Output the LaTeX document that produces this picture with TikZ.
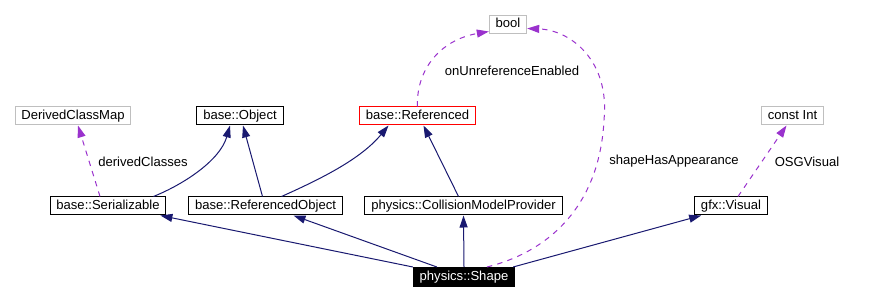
\documentclass[tikz,border=0pt]{standalone}
\usepackage{fontspec}
\setmainfont{Liberation Sans}
\usetikzlibrary{arrows.meta,calc}
\definecolor{inhblue}{RGB}{25,25,112}
\definecolor{usepurple}{RGB}{154,50,205}
\definecolor{extgrey}{RGB}{191,191,191}
\tikzset{
  cls/.style={draw=black,fill=white,line width=0.75pt,inner xsep=4.75pt,inner ysep=0pt,
              minimum height=13.5pt,text height=7pt,text depth=2pt,
              font=\fontsize{9.8}{11}\selectfont},
  clsx/.style={cls,draw=extgrey},
  clsr/.style={cls,draw=red},
  clsme/.style={cls,fill=black,text=white,minimum height=14.25pt},
  inh/.style={-{Triangle[length=9pt,width=6pt]},draw=inhblue,line width=0.75pt},
  usg/.style={-{Triangle[length=9pt,width=6pt]},draw=usepurple,line width=0.75pt,
              dash pattern=on 4pt off 4pt},
  lbl/.style={inner sep=0pt,font=\fontsize{9.8}{11}\selectfont},
}

\begin{document}
\begin{tikzpicture}[x=0.75pt,y=-0.75pt]
  \useasboundingbox (0,0) rectangle (882,302);

  % --- top row ------------------------------------------------------------
  \node[clsx] (bool) at (508,24.5) {bool};
  \node[clsx] (dcm)  at (73,116)   {DerivedClassMap};
  \node[cls]  (obj)  at (240,116)  {base::Object};
  \node[clsr] (ref)  at (417.5,116) {base::Referenced};
  \node[clsx] (cint) at (792.5,116) {const Int};

  % --- middle row ---------------------------------------------------------
  \node[cls] (ser)    at (108,206)   {base::Serializable};
  \node[cls] (refobj) at (265.5,206) {base::ReferencedObject};
  \node[cls] (cmp)    at (463.5,206) {physics::CollisionModelProvider};
  \node[cls] (vis)    at (731,206)   {gfx::Visual};

  \node[clsme] (shape) at (464,277) {physics::Shape};

  % --- inheritance --------------------------------------------------------
  \draw[inh] ($(ser.north east)+(-13,0)$) .. controls +(30,-12) and +(-10,35) .. ($(obj.south)+(-10,0)$);
  \draw[inh] ($(refobj.north)+(-3,0)$) -- ($(obj.south)+(3,0)$);
  \draw[inh] ($(refobj.north)+(16,0)$) .. controls +(38,-17) and +(-28,34) .. ($(ref.south)+(-29,0)$);
  \draw[inh] ($(cmp.north)+(-5,0)$) -- ($(ref.south)+(6,0)$);

  \draw[inh] (shape.north west) -- ($(ser.south east)+(-6,0)$);
  \draw[inh] ($(shape.north west)+(24,0)$) -- ($(refobj.south)+(28,0)$);
  \draw[inh] (shape.north) -- (cmp.south);
  \draw[inh] ($(shape.north east)+(-2,0)$) -- ($(vis.south west)+(7,0)$);

  % --- members ------------------------------------------------------------
  \draw[usg] ($(ser.north)+(-8,0)$) -- ($(dcm.south)+(5,0)$);
  \node[lbl] (lderiv) at (143,162) {derivedClasses};

  \draw[usg] (ref.north) .. controls (416,70) and (440,40) .. ($(bool.west)+(0,7)$);
  \node[lbl] (lunref) at (512,71) {onUnreferenceEnabled};

  \draw[usg] ($(shape.north)+(23,0)$) .. controls (555,250) and (600,200) .. (604,120)
             .. controls (610,60) and (570,30) .. ($(bool.east)+(0,4)$);
  \node[lbl] (lshape) at (674,161) {shapeHasAppearance};

  \draw[usg] ($(vis.north)+(7,0)$) -- ($(cint.south)+(-6,0)$);
  \node[lbl] (losg) at (807,162) {OSGVisual};

\end{tikzpicture}
\end{document}
